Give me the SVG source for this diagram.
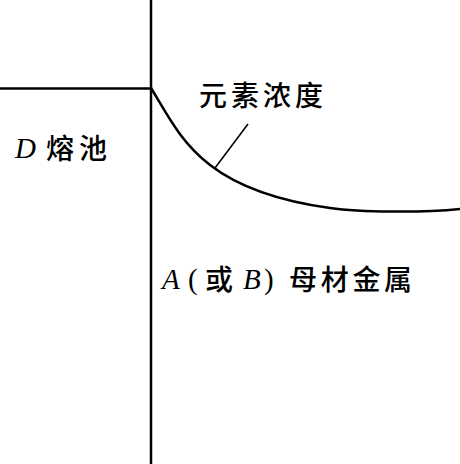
<svg xmlns="http://www.w3.org/2000/svg" width="460" height="464" viewBox="0 0 460 464">
<style>
.ln{fill:none;stroke:#000;stroke-width:2.5}
.ld{fill:none;stroke:#000;stroke-width:1.5}
.cjk{font-family:"Noto Sans CJK SC",sans-serif;font-size:28px;font-weight:500;fill:#000}
.lat{font-family:"Liberation Serif",serif;font-size:29px;fill:#000}
.it{font-style:italic}
</style>
<rect width="460" height="464" fill="#fff"/>
<g id="connectors">
<line class="ln" x1="151" y1="0" x2="151" y2="464"/>
<line class="ln" x1="0" y1="88.5" x2="151" y2="88.5"/>
<path class="ln" d="M151,88 C180,135 200,190 330,208 C360,212.2 420,213 460,209"/>
<line class="ld" x1="248" y1="124" x2="215" y2="168"/>
</g>
<g id="concentration-label">
<text class="cjk" x="199" y="106" style="letter-spacing:4px">元素浓度</text>
</g>
<g id="pool-label">
<text class="lat it" x="15" y="158">D</text>
<text class="cjk" x="46" y="159" style="letter-spacing:5px">熔池</text>
</g>
<g id="base-metal-label">
<text class="lat it" x="162" y="289">A</text>
<text class="lat" x="188" y="289">(</text>
<text class="cjk" x="205" y="290">或</text>
<text class="lat it" x="243" y="289">B</text>
<text class="lat" x="264" y="289">)</text>
<text class="cjk" x="289" y="290" style="letter-spacing:3.7px">母材金属</text>
</g>
</svg>
